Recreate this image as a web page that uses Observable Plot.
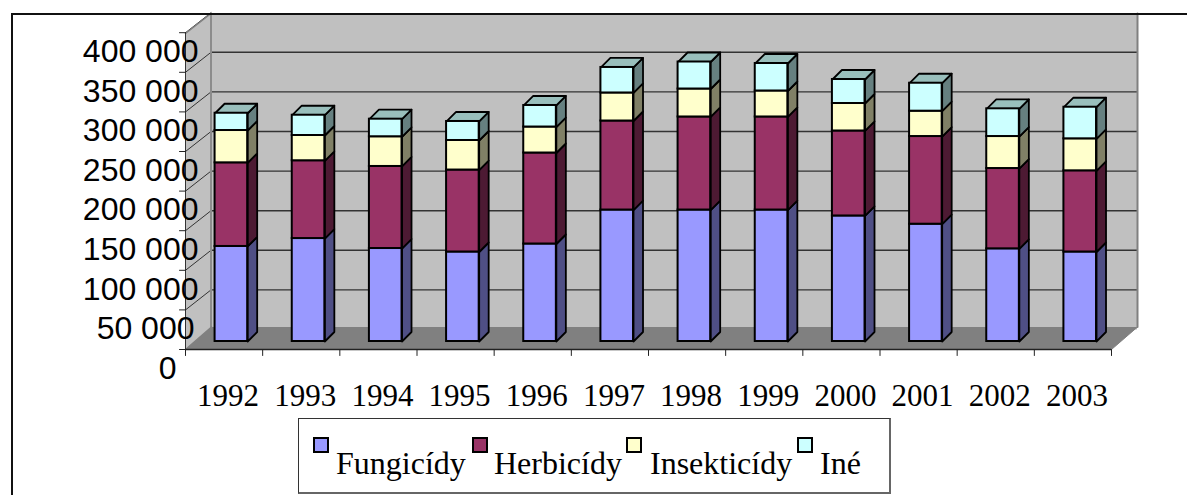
<!DOCTYPE html>
<html><head><meta charset="utf-8">
<style>
html,body{margin:0;padding:0;background:#fff;width:1187px;height:495px;overflow:hidden}
#chart{position:absolute;left:0;top:0}
#frame{position:absolute;left:11px;top:13px;right:0;bottom:0;border-top:2px solid #111;border-left:2px solid #111;pointer-events:none}
#legend{position:absolute;left:298px;top:418px;width:590px;height:73px;border:1px solid #333;border-bottom:2px solid #666;border-right:2px solid #666;background:#fff;font-family:"Liberation Serif",serif;font-size:32px;color:#000}
.sw{position:absolute;top:18px;width:12px;height:12px;border:2px solid #000}
.lb{position:absolute;top:25.5px;line-height:36px;white-space:nowrap}
</style>
<script src="https://cdn.jsdelivr.net/npm/d3@7"></script>
<script src="https://cdn.jsdelivr.net/npm/@observablehq/plot@0.6"></script>
</head><body>
<div id="chart"></div><div id="legend"></div><div id="frame"></div>
<script>
const years=[1992,1993,1994,1995,1996,1997,1998,1999,2000,2001,2002,2003];
const fungicidy=[120000,130000,117400,113000,123100,166000,166000,166000,158500,148100,117000,113000];
const herbicidy=[105600,98200,103600,103500,114900,112400,117500,117500,107300,110700,101400,102500];
const insekticidy=[40800,31900,37500,37300,32800,35400,35300,32800,34700,32000,40400,40400];
const ine=[21800,25600,22200,24000,27200,32200,34100,34700,30300,35300,35000,39900];
const seriesNames=["Fungicídy","Herbicídy","Insekticídy","Iné"];
const seriesValues=[fungicidy,herbicidy,insekticidy,ine];
const frontColors=["#9999ff","#993366","#ffffcc","#ccffff"];
const sideColors=["#4f4f85","#4d1a33","#808066","#668080"];
const topColor="#99bfbc";
const yTicks=[0,50000,100000,150000,200000,250000,300000,350000,400000];
const yLabels=["0","50 000","100 000","150 000","200 000","250 000","300 000","350 000","400 000"];

// scale geometry
const xDomain=[1991.5,2003.5], xRange=[185,1111];
const yDomain=[0,400000], yRange=[349,32.2];
const pxPerYear=(xRange[1]-xRange[0])/(xDomain[1]-xDomain[0]);
const pxPerVal=(yRange[0]-yRange[1])/(yDomain[1]-yDomain[0]);
// oblique projection: shift a data point by screen offsets, returned in data units
const P=(yr,val,dx,dy)=>({x:yr+dx/pxPerYear,y:val+dy/pxPerVal});
const poly=(id,fill,pts)=>[...pts,pts[0]].map(p=>({...p,id,fill}));

const barHalf=16.3/pxPerYear;
const plane={dx:7.3,dy:8}, depth={dx:9.5,dy:9.5};
const segs=[], sides=[], tops=[];
years.forEach((yr,i)=>{
  let base=0;
  seriesValues.forEach((vals,s)=>{
    const y1=base,y2=base+vals[i]; base=y2;
    segs.push({yr,x1:yr-barHalf,x2:yr+barHalf,y1,y2,fill:frontColors[s]});
    const xr=yr+barHalf;
    sides.push(...poly(`s${yr}-${s}`,sideColors[s],[
      P(xr,y1,0,0),P(xr,y1,depth.dx,depth.dy),P(xr,y2,depth.dx,depth.dy),P(xr,y2,0,0)]));
  });
  const xl=yr-barHalf,xr=yr+barHalf;
  tops.push(...poly(`t${yr}`,topColor,[
    P(xl,base,0,0),P(xl,base,depth.dx,depth.dy),P(xr,base,depth.dx,depth.dy),P(xr,base,0,0)]));
});

const wall={dx:25.5,dy:20}, floorD={dx:26,dy:22.5};
const [xa,xb]=xDomain, wallTop=399000;
const walls=[
  ...poly("back","#c0c0c0",[P(xa,0,wall.dx,wall.dy),P(xa,wallTop,wall.dx,wall.dy),P(xb,wallTop,wall.dx,wall.dy),P(xb,0,wall.dx,wall.dy)]),
  ...poly("side","#c0c0c0",[P(xa,0,0,0),P(xa,wallTop,0,0),P(xa,wallTop,wall.dx,wall.dy),P(xa,0,wall.dx,wall.dy)]),
  ...poly("floor","#808080",[P(xa,0,0,0),P(xa,0,floorD.dx,floorD.dy),P(xb,0,floorD.dx,floorD.dy),P(xb,0,0,0)])
];
const gridVals=yTicks.filter(v=>v>0&&v<400000);
const backGrid=gridVals.flatMap(v=>[P(xa,v,wall.dx,wall.dy),P(xb,v,wall.dx,wall.dy)].map(p=>({...p,id:v})));
const sideGrid=yTicks.filter(v=>v>0).flatMap(v=>[P(xa,v,0,0),P(xa,v,wall.dx,wall.dy)].map(p=>({...p,id:v})));
const yTickMarks=yTicks.flatMap(v=>[P(xa,v,-6,0),P(xa,v,0,0)].map(p=>({...p,id:v})));
const slotEdges=d3.range(0,13).map(i=>xa+i);
const slotTicks=slotEdges.flatMap(x=>[P(x,0,0,0),P(x,0,0,-6)].map(p=>({...p,id:x})));
const rightEdge=[P(xb,0,0,0),P(xb,0,floorD.dx,floorD.dy)];
const backRight=[P(xb,0,floorD.dx,floorD.dy),P(xb,wallTop,wall.dx+0.5,wall.dy)];
const backLeft=[P(xa,0,floorD.dx-0.5,floorD.dy),P(xa,wallTop,wall.dx,wall.dy)];
const sideBottom=[P(xa,0,0,0),P(xa,0,floorD.dx,floorD.dy)];
const sideTop=[P(xa,wallTop,0,0),P(xa,wallTop,wall.dx,wall.dy)];

const labelOpts={fontFamily:"Liberation Sans",fontSize:32,fill:"#000",textAnchor:"end",lineAnchor:"middle",dy:19,
  x:()=>xa,y:d=>d.v,text:d=>d.t};
const yLab=yTicks.map((v,i)=>({v,t:yLabels[i]}));

const plot=Plot.plot({
  width:1187,height:495,margin:0,marginTop:0,marginBottom:0,marginLeft:0,marginRight:0,
  x:{domain:xDomain,range:xRange,axis:null},
  y:{domain:yDomain,range:yRange,axis:null},
  color:{type:"identity"},
  style:{background:"transparent",overflow:"visible"},
  marks:[
    Plot.line(walls,{x:"x",y:"y",z:"id",fill:"fill",stroke:"none",curve:"linear"}),
    Plot.line(backGrid,{x:"x",y:"y",z:"id",stroke:"#333",strokeWidth:1.4}),
    Plot.line(sideGrid,{x:"x",y:"y",z:"id",stroke:"#333",strokeWidth:1}),
    Plot.line(backRight,{x:"x",y:"y",stroke:"#808080",strokeWidth:2}),
    Plot.line(backLeft,{x:"x",y:"y",stroke:"#8c8c8c",strokeWidth:2}),
    Plot.line(rightEdge,{x:"x",y:"y",stroke:"#808080",strokeWidth:1}),
    Plot.line(sideTop,{x:"x",y:"y",stroke:"#808080",strokeWidth:1.5}),
    Plot.line(sideBottom,{x:"x",y:"y",stroke:"#808080",strokeWidth:1.5}),
    Plot.ruleX([xa],{y1:0,y2:400000,stroke:"#333",strokeWidth:1}),
    Plot.ruleY([0],{x1:xa,x2:xb,stroke:"#222",strokeWidth:1.5}),
    Plot.line(yTickMarks,{x:"x",y:"y",z:"id",stroke:"#222",strokeWidth:1}),
    Plot.line(slotTicks,{x:"x",y:"y",z:"id",stroke:"#222",strokeWidth:1}),
    Plot.line(sides,{x:"x",y:"y",z:"id",fill:"fill",stroke:"#000",strokeWidth:1.8,dx:plane.dx,dy:-plane.dy,curve:"linear"}),
    Plot.line(tops,{x:"x",y:"y",z:"id",fill:"fill",stroke:"#000",strokeWidth:1.8,dx:plane.dx,dy:-plane.dy,curve:"linear"}),
    Plot.rect(segs,{x1:"x1",x2:"x2",y1:"y1",y2:"y2",fill:"fill",stroke:"#000",strokeWidth:2,dx:plane.dx,dy:-plane.dy}),
    Plot.text(yLab.filter(d=>d.v>=100000),{...labelOpts,dx:13}),
    Plot.text(yLab.filter(d=>d.v===50000),{...labelOpts,dx:9}),
    Plot.text(yLab.filter(d=>d.v===0),{...labelOpts,dx:-9}),
    Plot.text(years,{x:d=>d,y:()=>0,text:d=>String(d),fontFamily:"Liberation Serif",fontSize:31,fill:"#000",lineAnchor:"middle",dx:4,dy:47})
  ]
});
document.getElementById("chart").appendChild(plot);

const legend=document.getElementById("legend");
const swatchLeft=[14,173,327,498], labelLeft=[37,195,351,521];
seriesNames.forEach((name,i)=>{
  const s=document.createElement("div");s.className="sw";s.style.left=swatchLeft[i]+"px";s.style.background=frontColors[i];legend.appendChild(s);
  const t=document.createElement("div");t.className="lb";t.style.left=labelLeft[i]+"px";t.textContent=name;legend.appendChild(t);
});
</script>
</body></html>
